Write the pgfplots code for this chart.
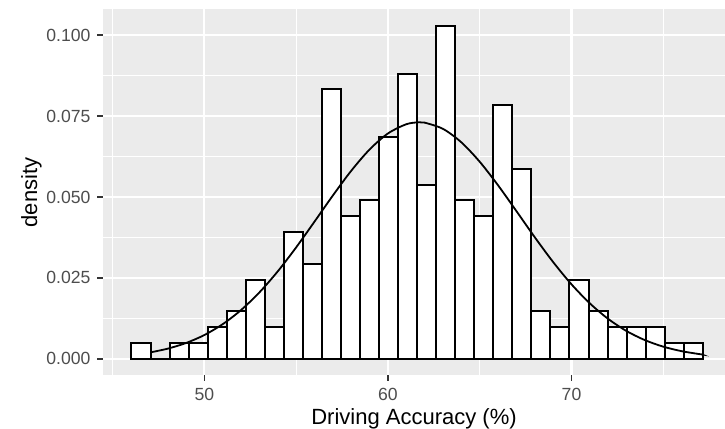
\documentclass[border=0pt]{standalone}
\usepackage{pgfplots}
\pgfplotsset{compat=1.18}
\usepackage{fontspec}
\setmainfont{Liberation Sans}
\definecolor{panelgray}{HTML}{EBEBEB}
\definecolor{ticktext}{HTML}{4D4D4D}
\definecolor{tickmark}{HTML}{333333}

\begin{document}
\begin{tikzpicture}
\begin{axis}[name=ax, scale only axis, width=311pt, height=183pt,
  xmin=44.48, xmax=78.36, ymin=-0.00514, ymax=0.1079,
  axis background/.style={fill=panelgray},
  axis line style={draw=none},
  tick align=outside, tick pos=left,
  major tick length=2.75pt, minor tick length=0pt,
  tick style={tickmark, line width=0.8pt},
  xtick={50,60,70}, ytick={0,0.025,0.05,0.075,0.1},
  minor xtick={45,55,65,75}, minor ytick={0.0125,0.0375,0.0625,0.0875},
  grid=both,
  major grid style={white, line width=1.07pt},
  minor grid style={white, line width=0.53pt},
  ticklabel style={font=\fontsize{8.8}{10}\selectfont, text=ticktext},
  /pgf/number format/assume math mode=true,
  yticklabel style={/pgf/number format/.cd, fixed, fixed zerofill, precision=3},
  label style={font=\fontsize{11}{13}\selectfont},
  xlabel={Driving Accuracy (\%)}, ylabel={density},
  xlabel style={at={(axis description cs:0.5,-0.1331)}, anchor=base},
  ylabel style={at={(axis description cs:-0.1061,0.5)}, anchor=base},
]
% histogram: left bin edges and density (last point closes the interval)
\addplot[ybar interval, fill=white, draw=black, line width=1pt] coordinates {
  (46.032,0.00489) (47.069,0) (48.106,0.00489) (49.144,0.00489)
  (50.181,0.00979) (51.218,0.01468) (52.255,0.02447) (53.293,0.00979)
  (54.330,0.03915) (55.367,0.02936) (56.404,0.08320) (57.442,0.04405)
  (58.479,0.04894) (59.516,0.06852) (60.553,0.08809) (61.591,0.05383)
  (62.628,0.10277) (63.665,0.04894) (64.702,0.04405) (65.740,0.07830)
  (66.777,0.05873) (67.814,0.01468) (68.851,0.00979) (69.889,0.02447)
  (70.926,0.01468) (71.963,0.00979) (73.000,0.00979) (74.038,0.00979)
  (75.075,0.00489) (76.112,0.00489) (77.149,0)
};
% fitted normal curve
\addplot[smooth, black, line width=0.9pt] coordinates {
  (47.06,0.00201) (48,0.00314) (49,0.00489) (50,0.00736) (51,0.01071)
  (52,0.01508) (53,0.02053) (54,0.02703) (55,0.03442) (56,0.04238)
  (57,0.05045) (58,0.05808) (59,0.06466) (60,0.06961) (61,0.07247)
  (61.7,0.07307) (62,0.07296) (63,0.07103) (64,0.06687) (65,0.06087)
  (66,0.05359) (67,0.04562) (68,0.03755) (69,0.02989) (70,0.02301)
  (71,0.01713) (72,0.01233) (73,0.00858) (74,0.00578) (75,0.00376)
  (76,0.00237) (77,0.00144) (77.1,0.00137)
};
\end{axis}
\pgfresetboundingbox
\path[use as bounding box] ([xshift=-51.5pt,yshift=-26.7pt]ax.south west) rectangle ([yshift=4.75pt]ax.north east);
\end{tikzpicture}
\end{document}
